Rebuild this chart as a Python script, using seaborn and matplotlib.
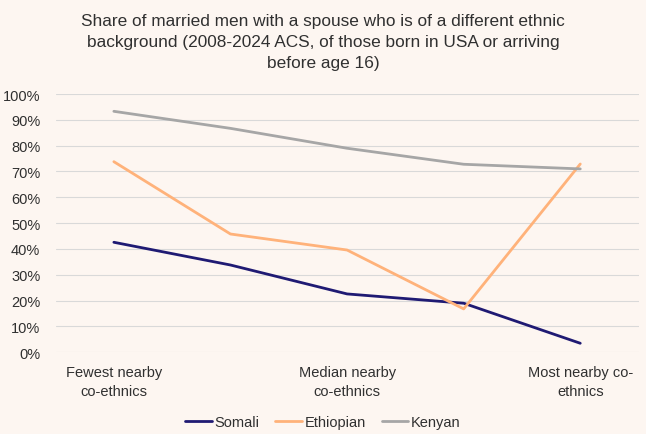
import pandas as pd
import matplotlib.pyplot as plt
import seaborn as sns

# =========================
# DATA
# =========================
positions = [0, 1, 2, 3, 4]
somali = [42.6, 33.8, 22.6, 19.0, 3.5]
ethiopian = [73.8, 45.8, 39.6, 16.8, 72.9]
kenyan = [93.3, 86.7, 79.0, 72.8, 71.0]
tick_pos = [0, 2, 4]
tick_labels = ["Fewest nearby\nco-ethnics", "Median nearby\nco-ethnics", "Most nearby co-\nethnics"]
series_names = ["Somali", "Ethiopian", "Kenyan"]
colors = ["#1F1A73", "#FFB27A", "#A6A6A6"]

df = pd.DataFrame({
    "pos": positions * 3,
    "share": [v / 100 for v in somali + ethiopian + kenyan],
    "group": [n for n in series_names for _ in positions],
})

# =========================
# STYLE
# =========================
bg = "#FDF6F1"
sns.set_style("white")
plt.rcParams["font.family"] = ["Liberation Sans Narrow", "Liberation Sans", "DejaVu Sans"]

fig = plt.figure(figsize=(6.46, 4.35), dpi=100, facecolor=bg)
ax = fig.add_axes([0.086, 0.1878, 0.9025, 0.5938], facecolor=bg)

sns.lineplot(
    data=df,
    x="pos",
    y="share",
    hue="group",
    hue_order=series_names,
    palette=colors,
    linewidth=2.0,
    ax=ax,
    legend=False,
)

ax.set_xlim(-0.5, 4.5)
ax.set_ylim(0, 1)
ax.set_yticks([i / 10 for i in range(11)])
ax.set_yticklabels([f"{i * 10}%" for i in range(11)])
ax.set_xticks(tick_pos)
ax.set_xticklabels(tick_labels, linespacing=1.5)
ax.set_xlabel("")
ax.set_ylabel("")
ax.grid(axis="y", color="#D9D9D9", linewidth=0.8)
ax.set_axisbelow(True)
for s in ax.spines.values():
    s.set_visible(False)
ax.tick_params(axis="both", length=0, labelsize=10.5, colors="#303030")
ax.tick_params(axis="y", pad=11)
ax.tick_params(axis="x", pad=9)

fig.text(
    0.5, 0.968,
    "Share of married men with a spouse who is of a different ethnic\n"
    "background (2008-2024 ACS, of those born in USA or arriving\n"
    "before age 16)",
    ha="center", va="top", fontsize=12.4, color="#303030", linespacing=1.5,
)

handles = [plt.Line2D([], [], color=c, linewidth=2.0) for c in colors]
fig.legend(
    handles, series_names,
    loc="center", bbox_to_anchor=(0.5, 0.028),
    ncol=3, frameon=False, fontsize=10.5,
    handlelength=1.8, handletextpad=0.2, columnspacing=1.1,
    labelcolor="#303030",
)

fig.savefig("out.png", dpi=100, facecolor=bg)
